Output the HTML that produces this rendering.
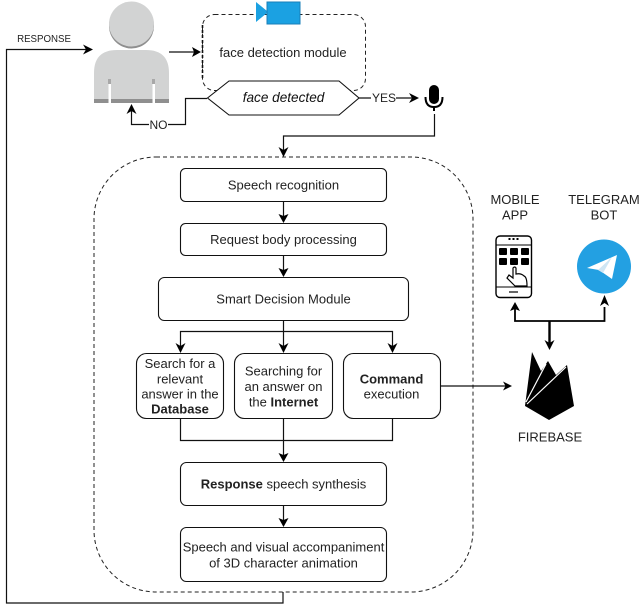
<!DOCTYPE html>
<html><head><meta charset="utf-8">
<style>
html,body{margin:0;padding:0;background:#fff;}
svg{display:block;filter:blur(0.35px);}
text{font-family:"Liberation Sans",sans-serif;font-size:13px;fill:#222;text-anchor:middle;}
.b{fill:#fff;stroke:#111;stroke-width:1.1;}
.l{fill:none;stroke:#111;stroke-width:1.2;}
.d{fill:none;stroke:#222;stroke-width:1;stroke-dasharray:4 3;}
.a{fill:#000;stroke:none;}
</style></head>
<body>
<svg width="640" height="612" viewBox="0 0 640 612" xmlns="http://www.w3.org/2000/svg">
<!-- big dashed -->
<rect class="d" x="94" y="157" width="379" height="435" rx="62" ry="62"/>
<!-- module dashed -->
<rect class="d" x="202.5" y="14.5" width="163" height="76" rx="12"/>
<line x1="202.5" y1="25" x2="202.5" y2="80" stroke="#111" stroke-width="1.6" stroke-dasharray="3 2"/>
<!-- camera -->
<polygon points="256,2 267,11 267,13 256,22" fill="#1ba1e2"/>
<rect x="267" y="2" width="33" height="22" fill="#1ba1e2" stroke="#1a7fb8" stroke-width="1"/>
<text x="283" y="57">face detection module</text>
<!-- person -->
<circle cx="131.5" cy="26" r="22.5" fill="#8f8f8f"/>
<circle cx="131.5" cy="24" r="22.5" fill="#d2d3d3"/>
<path d="M94 103V73Q94 50 117 50H146Q169 50 169 73V103Z" fill="#d2d3d3"/>
<rect x="94" y="99" width="75" height="4" fill="#8f8f8f"/>
<rect x="108.5" y="84" width="2.5" height="19" fill="#fff"/>
<rect x="152.5" y="84" width="2.5" height="19" fill="#fff"/>
<rect x="108" y="79" width="3" height="5" fill="#a8a8a8"/>
<rect x="152" y="79" width="3" height="5" fill="#a8a8a8"/>
<!-- hexagon -->
<polygon points="207.5,98 229,81 339,81 359,98 339,115 229,115" fill="#fff" stroke="#111" stroke-width="1.1"/>
<text x="283.5" y="102" style="font-style:italic;font-size:13.6px;fill:#111">face detected</text>
<!-- arrow person to module -->
<path class="l" d="M169 52H196"/>
<polygon class="a" points="201,52 192,47 194,52 192,57"/>
<!-- response -->
<path class="l" d="M283 592V603H6.5V49.5H88"/>
<polygon class="a" points="93,49.5 83,44.5 86,49.5 83,54.5"/>
<text x="44" y="42" style="font-size:9.7px">RESPONSE</text>
<!-- NO -->
<path class="l" d="M207 98.5H185.5V124.5H131.5V110"/>
<polygon class="a" points="131.5,104 126.5,114 131.5,111 136.5,114"/>
<rect x="149" y="117" width="19" height="15" fill="#fff"/>
<text x="158.5" y="129" style="font-size:12px">NO</text>
<!-- YES -->
<path class="l" d="M359 98H414"/>
<polygon class="a" points="419,98 409,93 412,98 409,103"/>
<rect x="371" y="90" width="25" height="15" fill="#fff"/>
<text x="384" y="102" style="font-size:12px">YES</text>
<!-- mic -->
<rect x="429" y="85" width="10" height="19" rx="5" fill="#000"/>
<path d="M425.5 97Q425.5 107 434 107Q442.5 107 442.5 97" fill="none" stroke="#000" stroke-width="2"/>
<line x1="434" y1="107" x2="434" y2="111" stroke="#000" stroke-width="2"/>
<!-- mic to big -->
<path class="l" d="M434.5 114V136H283.5V151"/>
<polygon class="a" points="283.5,157 278.5,147 283.5,150 288.5,147"/>
<!-- boxes -->
<rect class="b" x="180.5" y="168.5" width="206" height="33" rx="5"/>
<text x="283.5" y="189.5">Speech recognition</text>
<path class="l" d="M283.5 201V218"/>
<polygon class="a" points="283.5,223 278.5,214 283.5,216 288.5,214"/>
<rect class="b" x="180.5" y="223.5" width="206" height="32" rx="5"/>
<text x="283.5" y="244">Request body processing</text>
<path class="l" d="M283.5 256V272"/>
<polygon class="a" points="283.5,277 278.5,268 283.5,270 288.5,268"/>
<rect class="b" x="158.5" y="277.5" width="250" height="43" rx="6" stroke-width="1.3"/>
<text x="283.5" y="303.5">Smart Decision Module</text>
<path class="l" d="M283.5 321V348M180.5 348V331.5H392.5V348"/>
<polygon class="a" points="180.5,353 175.5,343 180.5,346 185.5,343"/>
<polygon class="a" points="283.5,353 278.5,343 283.5,346 288.5,343"/>
<polygon class="a" points="392.5,353 387.5,343 392.5,346 397.5,343"/>
<rect class="b" x="136.5" y="353.5" width="87" height="65" rx="10"/>
<text x="180" y="368">Search for a</text>
<text x="180" y="383.5">relevant</text>
<text x="180" y="398.5">answer in the</text>
<text x="180" y="413.5" style="font-weight:bold">Database</text>
<rect class="b" x="234.5" y="353.5" width="98" height="65" rx="10"/>
<text x="283.5" y="375.5">Searching for</text>
<text x="283.5" y="391">an answer on</text>
<text x="283.5" y="406.5">the <tspan style="font-weight:bold">Internet</tspan></text>
<rect class="b" x="343.5" y="353.5" width="97" height="65" rx="10"/>
<text x="391.5" y="383.5" style="font-weight:bold">Command</text>
<text x="391.5" y="398.5">execution</text>
<path class="l" d="M180.5 418V440.5H392.5V418M283.5 418V457"/>
<polygon class="a" points="283.5,462 278.5,453 283.5,455 288.5,453"/>
<rect class="b" x="180.5" y="462.5" width="206" height="43" rx="6"/>
<text x="283.5" y="488.5"><tspan style="font-weight:bold">Response</tspan> speech synthesis</text>
<path class="l" d="M283.5 505V522"/>
<polygon class="a" points="283.5,527 278.5,518 283.5,520 288.5,518"/>
<rect class="b" x="180.5" y="527.5" width="206" height="54" rx="6"/>
<text x="283.5" y="551.5">Speech and visual accompaniment</text>
<text x="283.5" y="567.5">of 3D character animation</text>
<!-- to firebase -->
<path class="l" d="M440 386H507"/>
<polygon class="a" points="512,386 503,381.5 505.5,386 503,390.5"/>
<!-- right labels -->
<text x="515" y="204">MOBILE</text>
<text x="515" y="219.5">APP</text>
<text x="604" y="204">TELEGRAM</text>
<text x="604" y="219.5">BOT</text>
<!-- phone -->
<rect x="496" y="236" width="35.5" height="61.5" rx="4" fill="#fff" stroke="#000" stroke-width="1.4"/>
<line x1="496" y1="245" x2="531" y2="245" stroke="#000"/>
<line x1="496" y1="287" x2="531" y2="287" stroke="#000"/>
<line x1="509" y1="292" x2="518" y2="292" stroke="#000" stroke-width="1.2"/>
<rect x="508.5" y="238" width="2" height="2" fill="#000"/><rect x="512.5" y="238" width="2" height="2" fill="#000"/><rect x="516.5" y="238" width="2" height="2" fill="#000"/>
<rect x="499" y="248" width="8" height="7" rx="1" fill="#000"/><rect x="510" y="248" width="8" height="7" rx="1" fill="#000"/><rect x="521" y="248" width="8" height="7" rx="1" fill="#000"/>
<rect x="499" y="258" width="8" height="7" rx="1" fill="#000"/><rect x="510" y="258" width="8" height="7" rx="1" fill="#000"/><rect x="521" y="258" width="8" height="7" rx="1" fill="#000"/>
<path d="M515 286L507 278L509 275L513 278V268Q515 266 516 268V274Q521 273 524 276Q527 277 527 286Z" fill="#fff" stroke="#000" stroke-width="1.2"/>
<!-- telegram -->
<circle cx="604" cy="266.5" r="27" fill="#23a0e2"/>
<path d="M587 268L617 255L612 279L599 270Z" fill="#fff"/>
<path d="M598 270L612 257L603 273Z" fill="#cfe6f4"/>
<!-- firebase connectors -->
<path d="M515 307V321H604.5V307" fill="none" stroke="#000" stroke-width="1.8"/>
<polygon class="a" points="515,302 510,311 515,309 520,311"/>
<polygon class="a" points="604.5,295 600,306 604.5,303 609,306"/>
<path d="M549.5 321V345" stroke="#000" stroke-width="2.4"/>
<polygon class="a" points="549.5,350 544.5,340 549.5,343 554.5,340"/>
<!-- firebase icon -->
<polygon class="a" points="532,352 541,371 548,361 556,375 567,365 574,406 549,420 525,406"/>
<line x1="526" y1="402" x2="546" y2="364" stroke="#fff" stroke-width="1.2"/>
<line x1="527" y1="404" x2="566" y2="367" stroke="#fff" stroke-width="1.2"/>
<text x="550" y="441.5">FIREBASE</text>
</svg>
</body></html>
